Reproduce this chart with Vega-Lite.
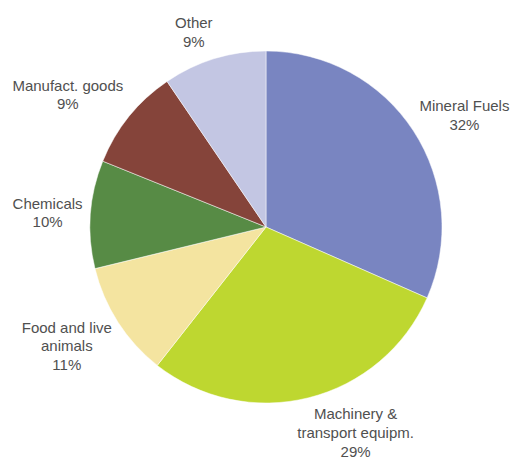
{
  "$schema": "https://vega.github.io/schema/vega-lite/v6.json",
  "autosize": "none",
  "width": 490,
  "height": 454,
  "padding": {"left": 21, "top": 0, "right": 0, "bottom": 5},
  "background": "white",
  "config": {"view": {"stroke": null}},
  "data": {
    "values": [
      {"category": "Mineral Fuels", "value": 31.6, "order": 1, "label": "Mineral Fuels\n32%"},
      {"category": "Machinery & transport equipm.", "value": 29.0, "order": 2, "label": "Machinery &\ntransport equipm.\n29%"},
      {"category": "Food and live animals", "value": 10.6, "order": 3, "label": "Food and live\nanimals\n11%"},
      {"category": "Chemicals", "value": 9.9, "order": 4, "label": "Chemicals\n10%"},
      {"category": "Manufact. goods", "value": 9.4, "order": 5, "label": "Manufact. goods\n9%"},
      {"category": "Other", "value": 9.5, "order": 6, "label": "Other\n9%"}
    ]
  },
  "encoding": {
    "theta": {"field": "value", "type": "quantitative", "stack": true},
    "order": {"field": "order", "type": "quantitative"}
  },
  "layer": [
    {
      "mark": {"type": "arc", "outerRadius": 176, "stroke": "white", "strokeWidth": 0.5},
      "encoding": {
        "color": {
          "field": "category",
          "type": "nominal",
          "legend": null,
          "scale": {
            "domain": ["Mineral Fuels", "Machinery & transport equipm.", "Food and live animals", "Chemicals", "Manufact. goods", "Other"],
            "range": ["#7985C1", "#BED730", "#F4E4A0", "#578B45", "#85443A", "#C3C6E3"]
          }
        }
      }
    },
    {
      "mark": {"type": "text", "radius": 225, "dx": 10, "dy": 2, "align": "center", "baseline": "middle", "font": "Liberation Sans", "fontSize": 15, "lineHeight": 18.7, "lineBreak": "\n", "fill": "#505050"},
      "encoding": {"text": {"condition": {"test": "datum.order == 1", "field": "label"}, "value": ""}}
    },
    {
      "mark": {"type": "text", "radius": 225, "dx": 35, "dy": -31, "align": "center", "baseline": "middle", "font": "Liberation Sans", "fontSize": 15, "lineHeight": 18.7, "lineBreak": "\n", "fill": "#505050"},
      "encoding": {"text": {"condition": {"test": "datum.order == 2", "field": "label"}, "value": ""}}
    },
    {
      "mark": {"type": "text", "radius": 225, "dx": -10, "dy": -21, "align": "center", "baseline": "middle", "font": "Liberation Sans", "fontSize": 15, "lineHeight": 18.7, "lineBreak": "\n", "fill": "#505050"},
      "encoding": {"text": {"condition": {"test": "datum.order == 3", "field": "label"}, "value": ""}}
    },
    {
      "mark": {"type": "text", "radius": 225, "dx": 6, "dy": -7, "align": "center", "baseline": "middle", "font": "Liberation Sans", "fontSize": 15, "lineHeight": 18.7, "lineBreak": "\n", "fill": "#505050"},
      "encoding": {"text": {"condition": {"test": "datum.order == 4", "field": "label"}, "value": ""}}
    },
    {
      "mark": {"type": "text", "radius": 225, "dx": -23, "dy": 0, "align": "center", "baseline": "middle", "font": "Liberation Sans", "fontSize": 15, "lineHeight": 18.7, "lineBreak": "\n", "fill": "#505050"},
      "encoding": {"text": {"condition": {"test": "datum.order == 5", "field": "label"}, "value": ""}}
    },
    {
      "mark": {"type": "text", "radius": 225, "dx": -6, "dy": 11, "align": "center", "baseline": "middle", "font": "Liberation Sans", "fontSize": 15, "lineHeight": 18.7, "lineBreak": "\n", "fill": "#505050"},
      "encoding": {"text": {"condition": {"test": "datum.order == 6", "field": "label"}, "value": ""}}
    }
  ]
}
